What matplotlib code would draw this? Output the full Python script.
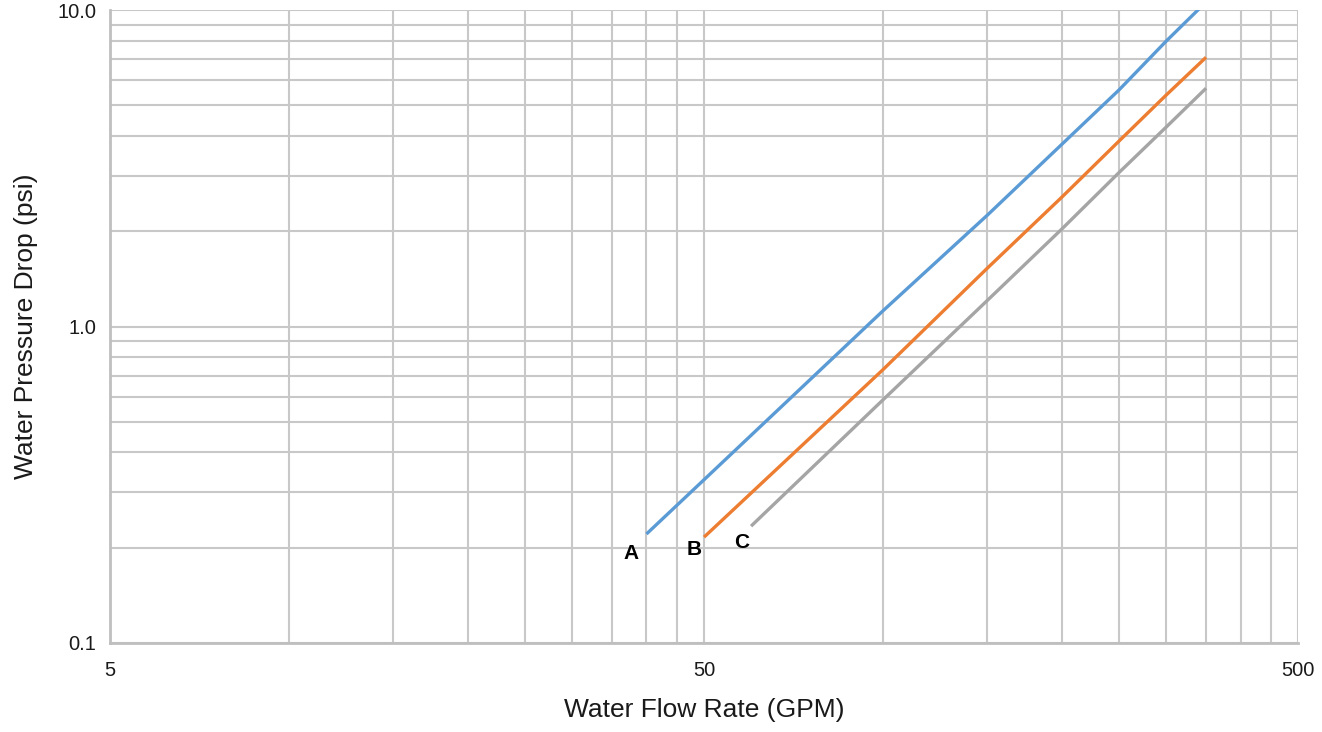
import matplotlib
matplotlib.use('Agg')
import matplotlib.pyplot as plt
from matplotlib.ticker import LogLocator, FixedFormatter, FixedLocator, NullFormatter

plt.rcParams['font.family'] = ['Liberation Sans', 'DejaVu Sans']

# curve A (blue), B (orange), C (gray)
flow_a = [40, 50, 100, 150, 200, 250, 300, 350]
drop_a = [0.221, 0.328, 1.12, 2.25, 3.76, 5.6, 7.98, 10.6]
flow_b = [50, 100, 150, 200, 250, 300, 350]
drop_b = [0.216, 0.73, 1.53, 2.56, 3.86, 5.39, 7.09]
flow_c = [60, 100, 150, 200, 250, 300, 350]
drop_c = [0.234, 0.586, 1.21, 2.03, 3.07, 4.27, 5.66]

labels = ['A', 'B', 'C']
label_x = [37.7, 48.1, 57.9]
label_y = [0.192, 0.197, 0.207]

x_ticks = [5, 50, 500]
x_ticklabels = ['5', '50', '500']
y_ticks = [0.1, 1, 10]
y_ticklabels = ['0.1', '1.0', '10.0']

grid_col = '#c8c8c8'

fig = plt.figure(figsize=(13.22, 7.32), dpi=100)
ax = fig.add_axes([0.0832, 0.1216, 0.8987, 0.8647])

ax.plot(flow_a, drop_a, color='#5B9BD5', lw=2.4, solid_capstyle='butt')
ax.plot(flow_b, drop_b, color='#ED7D31', lw=2.4, solid_capstyle='butt')
ax.plot(flow_c, drop_c, color='#A5A5A5', lw=2.4, solid_capstyle='butt')

for t, x, y in zip(labels, label_x, label_y):
    ax.text(x, y, t, fontsize=15, fontweight='bold', ha='center', va='center')

ax.set_xscale('log')
ax.set_yscale('log')
ax.set_xlim(5, 500)
ax.set_ylim(0.1, 10)

ax.xaxis.set_major_locator(FixedLocator(x_ticks))
ax.xaxis.set_major_formatter(FixedFormatter(x_ticklabels))
ax.xaxis.set_minor_locator(LogLocator(base=10, subs=[1, 1.5, 2, 2.5, 3, 3.5, 4, 4.5]))
ax.xaxis.set_minor_formatter(NullFormatter())
ax.yaxis.set_major_locator(FixedLocator(y_ticks))
ax.yaxis.set_major_formatter(FixedFormatter(y_ticklabels))
ax.yaxis.set_minor_locator(LogLocator(base=10, subs=[2, 3, 4, 5, 6, 7, 8, 9]))
ax.yaxis.set_minor_formatter(NullFormatter())

ax.grid(True, which='both', color=grid_col, lw=1.5)
ax.set_axisbelow(True)
ax.tick_params(which='both', length=0, labelsize=14.5, colors='#1a1a1a')
ax.tick_params(axis='x', pad=13)
ax.tick_params(axis='y', pad=10)

for s in ['top', 'right']:
    ax.spines[s].set_visible(False)
for s in ['left', 'bottom']:
    ax.spines[s].set_color('#bfbfbf')
    ax.spines[s].set_linewidth(2)

ax.set_xlabel('Water Flow Rate (GPM)', fontsize=19, labelpad=13, color='#1a1a1a')
ax.set_ylabel('Water Pressure Drop (psi)', fontsize=19, labelpad=14, color='#1a1a1a')

plt.savefig('out.png', dpi=100)
plt.close()
